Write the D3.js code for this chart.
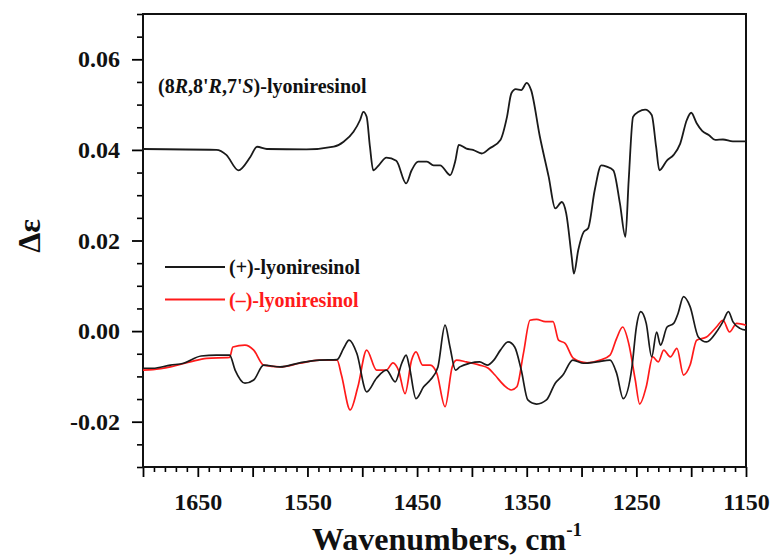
<!DOCTYPE html>
<html>
<head>
<meta charset="utf-8">
<script src="https://cdn.jsdelivr.net/npm/d3@7"></script>
<style>
  body { margin: 0; background: #fff; }
  svg text { font-family: "Liberation Serif", "Times New Roman", serif; font-weight: bold; }
</style>
</head>
<body>
<svg width="774" height="558"></svg>
<script>
// (8R,8'R,7'S)-lyoniresinol (calculated, upper trace)
var topWn = [1700, 1633, 1624, 1613, 1602, 1596, 1587, 1551, 1526, 1517, 1508, 1502, 1499, 1496, 1493, 1490,
  1485, 1478, 1469, 1460, 1455, 1449, 1441, 1435, 1429, 1422, 1420, 1415, 1412, 1405, 1399, 1391, 1384,
  1374, 1368, 1364, 1360, 1355, 1350, 1346, 1338, 1330, 1324, 1318, 1314, 1309, 1307, 1303, 1298, 1294,
  1288, 1282, 1277, 1271, 1265, 1260, 1257, 1253, 1248, 1242, 1236, 1232, 1229, 1222, 1216, 1210, 1204,
  1200, 1195, 1190, 1184, 1178, 1171, 1162, 1150];
var topDe = [0.0402, 0.0400, 0.0389, 0.0355, 0.0385, 0.0407, 0.0402, 0.0401, 0.0407, 0.0418, 0.0440, 0.0466,
  0.0484, 0.0473, 0.0407, 0.0355, 0.0366, 0.0383, 0.0376, 0.0326, 0.0355, 0.0374, 0.0374, 0.0366, 0.0366,
  0.0348, 0.0344, 0.0377, 0.0411, 0.0403, 0.0400, 0.0392, 0.0403, 0.0422, 0.0473, 0.0525, 0.0534, 0.0532,
  0.0548, 0.0532, 0.0429, 0.0341, 0.0271, 0.0285, 0.0260, 0.0164, 0.0127, 0.0179, 0.0219, 0.0227, 0.0311,
  0.0366, 0.0363, 0.0355, 0.0282, 0.0208, 0.0333, 0.0473, 0.0484, 0.0489, 0.0477, 0.0407, 0.0355, 0.0377,
  0.0389, 0.0414, 0.0466, 0.0482, 0.0459, 0.0442, 0.0433, 0.0422, 0.0423, 0.0419, 0.0419];

// (+)-lyoniresinol
var plusWn = [1700, 1691, 1675, 1663, 1647, 1633, 1621, 1616, 1607, 1599, 1590, 1575, 1557, 1539, 1523, 1517,
  1512, 1505, 1496, 1487, 1478, 1470, 1464, 1460, 1457, 1451, 1444, 1438, 1431, 1424.5, 1420, 1415, 1411,
  1402, 1393, 1386, 1380, 1374, 1367, 1361, 1355, 1349, 1341, 1332, 1324, 1317, 1308, 1298, 1286, 1274,
  1268, 1262, 1254, 1250, 1246, 1241, 1236, 1231.5, 1228, 1222, 1216, 1212, 1207, 1201, 1193.5, 1186,
  1177, 1171, 1166, 1162, 1155.5, 1150];
var plusDe = [-0.0082, -0.0082, -0.0075, -0.0071, -0.0055, -0.0053, -0.0053, -0.0086, -0.0115, -0.0108, -0.0075,
  -0.0079, -0.0070, -0.0064, -0.0063, -0.0038, -0.0020, -0.0049, -0.0134, -0.0104, -0.0086, -0.0112, -0.0071,
  -0.0053, -0.0079, -0.0149, -0.0123, -0.0108, -0.0079, 0.0013, -0.0035, -0.0086, -0.0079, -0.0071, -0.0068,
  -0.0075, -0.0064, -0.0042, -0.0024, -0.0035, -0.0086, -0.0152, -0.0161, -0.0152, -0.0115, -0.0097, -0.0064,
  -0.0071, -0.0068, -0.0064, -0.0093, -0.0149, -0.0079, 0.0009, 0.0043, 0.0017, -0.0057, -0.0002, -0.0031,
  0.0009, 0.0017, 0.0039, 0.0076, 0.0054, -0.0013, -0.0024, -0.0002, 0.0021, 0.0043, 0.0021, 0.0006, 0.0002];

// (−)-lyoniresinol
var minusWn = [1700, 1691, 1675, 1657, 1642, 1621, 1618, 1607, 1599, 1590, 1575, 1557, 1539, 1523, 1519, 1511,
  1504, 1496, 1487, 1478, 1472, 1467, 1461, 1455, 1451, 1445, 1438, 1432, 1424.5, 1418, 1414, 1405, 1393,
  1385, 1379, 1371, 1364, 1359, 1353, 1347, 1341, 1333, 1326, 1321, 1315, 1307.5, 1295, 1283, 1274, 1268,
  1262.5, 1257, 1251, 1247, 1241, 1235, 1230, 1225, 1219, 1213, 1207, 1201, 1195, 1186, 1177, 1171, 1165,
  1158.5, 1150];
var minusDe = [-0.0086, -0.0085, -0.0079, -0.0068, -0.0060, -0.0058, -0.0035, -0.0031, -0.0042, -0.0075, -0.0079,
  -0.0071, -0.0064, -0.0064, -0.0097, -0.0174, -0.0123, -0.0042, -0.0086, -0.0086, -0.0070, -0.0086, -0.0138,
  -0.0064, -0.0046, -0.0075, -0.0075, -0.0093, -0.0167, -0.0079, -0.0064, -0.0068, -0.0075, -0.0082, -0.0097,
  -0.0119, -0.0130, -0.0123, -0.0049, 0.0024, 0.0026, 0.0021, 0.0021, -0.0020, -0.0027, -0.0060, -0.0070,
  -0.0064, -0.0053, -0.0016, 0.0009, -0.0027, -0.0108, -0.0161, -0.0123, -0.0057, -0.0068, -0.0042, -0.0057,
  -0.0038, -0.0097, -0.0075, -0.0020, -0.0013, 0.0009, 0.0024, -0.0002, 0.0017, 0.0013];

var xLabels = [1650, 1550, 1450, 1350, 1250, 1150];
var yLabels = [-0.02, 0.00, 0.02, 0.04, 0.06];
var legendNames = ["(+)-lyoniresinol", "(\u2013)-lyoniresinol"];
var legendColors = ["#1a1a1a", "#ff1a1a"];

var svg = d3.select("svg"),
    margin = { top: 14, right: 28, bottom: 91, left: 143 },
    width = +svg.attr("width") - margin.left - margin.right,
    height = +svg.attr("height") - margin.top - margin.bottom,
    g = svg.append("g").attr("transform", "translate(" + margin.left + "," + margin.top + ")");

var x = d3.scaleLinear().domain([1700, 1150]).range([0, width]);
var y = d3.scaleLinear().domain([-0.03, 0.07]).range([height, 0]);

function zip(a, b) { return a.map(function (d, i) { return [d, b[i]]; }); }

var line = d3.line()
    .x(function (d) { return x(d[0]); })
    .y(function (d) { return y(d[1]); })
    .curve(d3.curveMonotoneX);

// minor ticks
var xMinor = d3.range(1700, 1149, -10).filter(function (d) { return d % 50 !== 0; });
var xMajor = d3.range(1700, 1149, -50);
var yMinor = d3.range(-0.03, 0.0701, 0.005).filter(function (d) { return Math.abs(Math.round(d * 1000) % 20) !== 0; });

g.append("g")
    .attr("transform", "translate(0," + height + ")")
    .call(d3.axisBottom(x).tickValues(xMinor).tickSize(5).tickFormat(""))
    .call(function (a) { a.select(".domain").remove(); a.selectAll("line").attr("stroke-width", 1.6); });

g.append("g")
    .attr("transform", "translate(0," + height + ")")
    .call(d3.axisBottom(x).tickValues(xMajor).tickSize(10).tickPadding(16)
        .tickFormat(function (d) { return xLabels.indexOf(d) >= 0 ? d : ""; }))
    .call(function (a) {
        a.select(".domain").remove();
        a.selectAll("line").attr("stroke-width", 1.8);
        a.selectAll("text").attr("font-size", 24).attr("fill", "#111");
    });

g.append("g")
    .call(d3.axisLeft(y).tickValues(yMinor).tickSize(6).tickFormat(""))
    .call(function (a) { a.select(".domain").remove(); a.selectAll("line").attr("stroke-width", 1.6); });

g.append("g")
    .call(d3.axisLeft(y).tickValues(yLabels).tickSize(11).tickPadding(12)
        .tickFormat(function (d) { return d.toFixed(2); }))
    .call(function (a) {
        a.select(".domain").remove();
        a.selectAll("line").attr("stroke-width", 1.8);
        a.selectAll("text").attr("font-size", 24).attr("fill", "#111");
    });

// frame
g.append("rect")
    .attr("width", width).attr("height", height)
    .attr("fill", "none").attr("stroke", "#111").attr("stroke-width", 2);

// curves
g.append("path")
    .datum(zip(topWn, topDe))
    .attr("fill", "none").attr("stroke", "#1a1a1a").attr("stroke-width", 1.8)
    .attr("stroke-linejoin", "round")
    .attr("d", line);

g.append("path")
    .datum(zip(minusWn, minusDe))
    .attr("fill", "none").attr("stroke", legendColors[1]).attr("stroke-width", 1.7)
    .attr("stroke-linejoin", "round")
    .attr("d", line);

g.append("path")
    .datum(zip(plusWn, plusDe))
    .attr("fill", "none").attr("stroke", legendColors[0]).attr("stroke-width", 1.7)
    .attr("stroke-linejoin", "round")
    .attr("d", line);

// labels
var t = svg.append("text").attr("x", 158).attr("y", 93).attr("font-size", 20).attr("fill", "#111");
t.append("tspan").text("(8");
t.append("tspan").attr("font-style", "italic").text("R");
t.append("tspan").text(",8'");
t.append("tspan").attr("font-style", "italic").text("R");
t.append("tspan").text(",7'");
t.append("tspan").attr("font-style", "italic").text("S");
t.append("tspan").text(")-lyoniresinol");

var leg = svg.selectAll(".leg").data(legendNames).enter().append("g")
    .attr("transform", function (d, i) { return "translate(165," + (267 + i * 32.5) + ")"; });
leg.append("line").attr("x1", 0).attr("x2", 60)
    .attr("stroke", function (d, i) { return legendColors[i]; }).attr("stroke-width", 1.8);
leg.append("text").attr("x", 64).attr("y", 7).attr("font-size", 20)
    .attr("fill", function (d, i) { return i ? legendColors[1] : "#111"; })
    .text(function (d) { return d; });

var xt = svg.append("text").attr("x", 312).attr("y", 550).attr("font-size", 32).attr("fill", "#111");
xt.append("tspan").text("Wavenumbers, cm");
xt.append("tspan").attr("font-size", 19).attr("dy", -14).text("-1");

svg.append("text")
    .attr("transform", "translate(40,236) rotate(-90)")
    .attr("text-anchor", "middle").attr("font-size", 32).attr("fill", "#111")
    .text("\u0394\u03b5");
</script>
</body>
</html>
